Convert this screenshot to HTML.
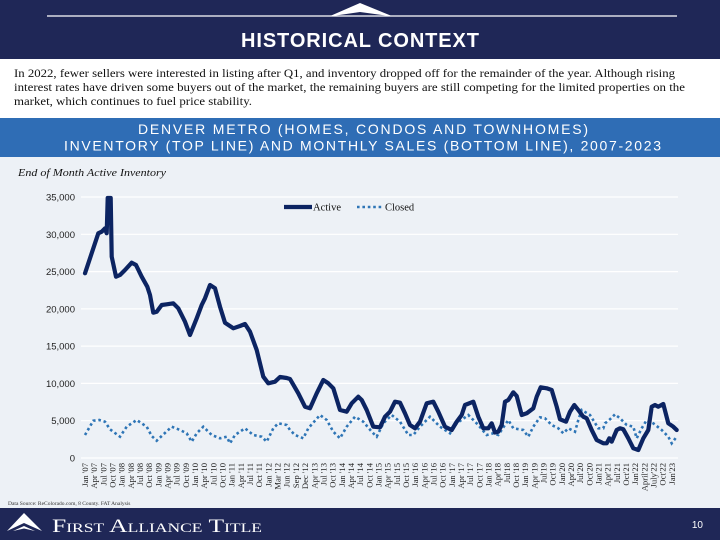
<!DOCTYPE html>
<html><head><meta charset="utf-8"><style>
html,body{margin:0;padding:0;background:#fff;}
svg{display:block;}
</style></head><body>
<svg width="720" height="540" viewBox="0 0 720 540" xmlns="http://www.w3.org/2000/svg">
<rect x="0" y="0" width="720" height="540" fill="#ffffff"/>
<!-- header -->
<rect x="0" y="0" width="720" height="59" fill="#1f2757"/>
<line x1="47" y1="16" x2="677" y2="16" stroke="#ffffff" stroke-width="1.2"/>
<polygon points="329,16.5 360,3 393,16.5 360,12" fill="#ffffff"/>
<text x="360" y="47" text-anchor="middle" font-family="Liberation Sans, sans-serif" font-weight="bold" font-size="20" fill="#ffffff" textLength="238" lengthAdjust="spacing">HISTORICAL CONTEXT</text>
<!-- body text -->
<g font-family="Liberation Serif, serif" font-size="11.5" fill="#111111">
<text x="14" y="77" textLength="661" lengthAdjust="spacingAndGlyphs">In 2022, fewer sellers were interested in listing after Q1, and inventory dropped off for the remainder of the year. Although rising</text>
<text x="14" y="91" textLength="671" lengthAdjust="spacingAndGlyphs">interest rates have driven some buyers out of the market, the remaining buyers are still competing for the limited properties on the</text>
<text x="14" y="105" textLength="238" lengthAdjust="spacingAndGlyphs">market, which continues to fuel price stability.</text>
</g>
<!-- blue band -->
<rect x="0" y="118" width="720" height="39" fill="#2f6db5"/>
<g font-family="Liberation Sans, sans-serif" font-size="14" fill="#ffffff">
<text x="138" y="134" textLength="450" lengthAdjust="spacing">DENVER METRO (HOMES, CONDOS AND TOWNHOMES)</text>
<text x="64" y="150.5" textLength="597" lengthAdjust="spacing">INVENTORY (TOP LINE) AND MONTHLY SALES (BOTTOM LINE), 2007-2023</text>
</g>
<!-- chart bg -->
<rect x="0" y="157" width="720" height="351" fill="#edf1f6"/>
<text x="18" y="176" font-family="Liberation Serif, serif" font-style="italic" font-size="11" fill="#111111" textLength="148" lengthAdjust="spacingAndGlyphs">End of Month Active Inventory</text>
<!-- gridlines -->
<g stroke="#ffffff" stroke-width="1.2">
<line x1="81" y1="197" x2="678" y2="197"/>
<line x1="81" y1="234.3" x2="678" y2="234.3"/>
<line x1="81" y1="271.6" x2="678" y2="271.6"/>
<line x1="81" y1="308.9" x2="678" y2="308.9"/>
<line x1="81" y1="346.1" x2="678" y2="346.1"/>
<line x1="81" y1="383.4" x2="678" y2="383.4"/>
<line x1="81" y1="420.7" x2="678" y2="420.7"/>
<line x1="81" y1="458" x2="678" y2="458"/>
</g>
<g font-family="Liberation Sans, sans-serif" font-size="9.5" fill="#222222" text-anchor="end">
<text x="75" y="200.5">35,000</text>
<text x="75" y="237.8">30,000</text>
<text x="75" y="275.1">25,000</text>
<text x="75" y="312.4">20,000</text>
<text x="75" y="349.6">15,000</text>
<text x="75" y="386.9">10,000</text>
<text x="75" y="424.2">5,000</text>
<text x="75" y="461.5">0</text>
</g>
<!-- closed series -->
<polyline fill="none" stroke="#2e75b6" stroke-width="2.6" stroke-dasharray="2.6 2.8" points="85,435 93.3,420.7 99.3,420 105,421.7 110,429.3 120,436.7 126.7,426.7 136.7,420 146.7,426.7 151.7,436 156.7,440.7 161.7,436 171.7,426.7 180,430 186.7,433.3 191.7,441.7 196.7,433.3 203.3,426.7 211.7,435 220,438.3 226.7,436.7 230,443.3 235,435 245,428.3 253.3,435 261.7,436.7 266.7,441.7 273.3,428.3 278.3,423.3 286.7,425 290,430 295,435 303.3,438.3 308.3,428.3 320,415 326.7,420 333.3,431.7 340,438.3 346.7,426.7 355,416.7 363.3,421.7 371.7,431.7 376.7,436.7 383.3,423.3 391.7,415 400,421.7 408.3,435 413.3,435 420,426.7 430,416.7 440,426.7 450,433.3 456.7,423.3 468.3,415 478.3,425 486.7,435 493.3,433.3 498.3,435 508.3,420 513.3,428.3 523.3,430 528.3,436.7 533.3,426.7 540,417.3 545,418.3 551.7,425 558.3,428.3 563.3,433.3 568.3,428.3 575,431.7 578.3,420 581.7,410 590,415 598.3,428.3 603.3,428.3 605,423.3 610,419.3 615,414.3 620,418.3 626.7,425 633.3,426.7 636.7,438.3 641.7,428.3 646.7,420 653.3,423.3 661.7,430 668.3,436.7 671.7,443.3 676.7,436.7"/>
<!-- active series -->
<polyline fill="none" stroke="#0c2462" stroke-width="4.2" stroke-linejoin="round" stroke-linecap="round" points="85,273.3 98.3,233.3 101.7,231.7 105,228.3 106.7,233.3 107.7,198 110.7,198 111.7,256.7 116,276.7 120,275 125,270 131.7,262.7 136,265 141.7,276.7 147.3,286.7 150,295 153.3,312.7 156.7,311.7 161.7,305 166.7,304.3 173.3,303.3 178.3,308.3 185,321.7 190,335 196.7,318.3 201.7,305 205,298.3 210,285 215,288.3 220,306.7 225,322.7 233.3,328.3 240,326 245,324 250,331.7 256.7,350 263.3,376.7 268.3,383.3 275,381.7 280,377 286.7,378 290,379 298.3,393.3 305,406.7 310,408.3 316.7,393.3 323.3,380 328.3,383.3 333.3,388.3 340,410 346.7,411.7 351.7,403.3 358.3,396.7 361.7,400 366.7,410 373.3,426.7 380,427.3 385,416.7 390,411.7 395,401.7 400,402.7 405,413.3 410,425 415,428.3 420,421.7 426.7,403.3 433.3,401.7 438.3,411.7 445,426.7 451.7,430 456.7,421.7 461.7,415 465,405 473.3,401.7 478.3,416.7 483.3,428.3 488.3,428.3 491.7,423.3 495,432.5 498.3,431.7 501.7,425 505,401.7 508.3,400 513.3,392.3 516.7,396 521.7,415 526.7,413.3 533.3,408.3 536.7,396.7 540.7,387.3 546.7,388.3 551.7,390 556.7,406.7 560,419.3 566,421.7 570,411.7 574.3,405 578.3,410 583.3,416.7 586.7,418.3 591.7,430 596.7,440 603.3,443.3 606.7,443.3 609.3,438.3 611.7,441.7 616.7,430 620,428.3 623.3,429.3 628.3,438.3 633.3,448.3 638.3,450 643.3,438.3 648.3,430 651.7,406.7 655,405 658.3,406.7 663.3,404 668.3,423.3 673.3,426.7 676.7,430"/>
<!-- legend -->
<line x1="284" y1="207" x2="312" y2="207" stroke="#0c2462" stroke-width="4.2"/>
<text x="313" y="210.5" font-family="Liberation Serif, serif" font-size="10.5" fill="#111111">Active</text>
<line x1="357" y1="207" x2="383" y2="207" stroke="#2e75b6" stroke-width="2.6" stroke-dasharray="2.6 2.8"/>
<text x="385" y="210.5" font-family="Liberation Serif, serif" font-size="10.5" fill="#111111">Closed</text>
<!-- x labels -->
<g font-family="Liberation Serif, serif" font-size="8.6" fill="#222222" text-anchor="end">
<text transform="translate(88,463) rotate(-90)">Jan '07</text>
<text transform="translate(97.17,463) rotate(-90)">Apr '07</text>
<text transform="translate(106.34,463) rotate(-90)">Jul '07</text>
<text transform="translate(115.51,463) rotate(-90)">Oct '07</text>
<text transform="translate(124.68,463) rotate(-90)">Jan '08</text>
<text transform="translate(133.85,463) rotate(-90)">Apr '08</text>
<text transform="translate(143.02,463) rotate(-90)">Jul '08</text>
<text transform="translate(152.19,463) rotate(-90)">Oct '08</text>
<text transform="translate(161.36,463) rotate(-90)">Jan '09</text>
<text transform="translate(170.53,463) rotate(-90)">Apr '09</text>
<text transform="translate(179.7,463) rotate(-90)">Jul '09</text>
<text transform="translate(188.87,463) rotate(-90)">Oct '09</text>
<text transform="translate(198.04,463) rotate(-90)">Jan '10</text>
<text transform="translate(207.21,463) rotate(-90)">Apr '10</text>
<text transform="translate(216.38,463) rotate(-90)">Jul '10</text>
<text transform="translate(225.55,463) rotate(-90)">Oct '10</text>
<text transform="translate(234.72,463) rotate(-90)">Jan '11</text>
<text transform="translate(243.89,463) rotate(-90)">Apr '11</text>
<text transform="translate(253.06,463) rotate(-90)">Jul '11</text>
<text transform="translate(262.23,463) rotate(-90)">Oct '11</text>
<text transform="translate(271.4,463) rotate(-90)">Jan '12</text>
<text transform="translate(280.57,463) rotate(-90)">Mar '12</text>
<text transform="translate(289.74,463) rotate(-90)">Jun '12</text>
<text transform="translate(298.91,463) rotate(-90)">Sep '12</text>
<text transform="translate(308.08,463) rotate(-90)">Dec '12</text>
<text transform="translate(317.25,463) rotate(-90)">Apr '13</text>
<text transform="translate(326.42,463) rotate(-90)">Jul '13</text>
<text transform="translate(335.59,463) rotate(-90)">Oct '13</text>
<text transform="translate(344.76,463) rotate(-90)">Jan '14</text>
<text transform="translate(353.93,463) rotate(-90)">Apr '14</text>
<text transform="translate(363.1,463) rotate(-90)">Jul '14</text>
<text transform="translate(372.27,463) rotate(-90)">Oct '14</text>
<text transform="translate(381.44,463) rotate(-90)">Jan '15</text>
<text transform="translate(390.61,463) rotate(-90)">Apr '15</text>
<text transform="translate(399.78,463) rotate(-90)">Jul '15</text>
<text transform="translate(408.95,463) rotate(-90)">Oct '15</text>
<text transform="translate(418.12,463) rotate(-90)">Jan '16</text>
<text transform="translate(427.29,463) rotate(-90)">Apr '16</text>
<text transform="translate(436.46,463) rotate(-90)">Jul '16</text>
<text transform="translate(445.63,463) rotate(-90)">Oct '16</text>
<text transform="translate(454.8,463) rotate(-90)">Jan '17</text>
<text transform="translate(463.97,463) rotate(-90)">Apr '17</text>
<text transform="translate(473.14,463) rotate(-90)">Jul '17</text>
<text transform="translate(482.31,463) rotate(-90)">Oct '17</text>
<text transform="translate(491.48,463) rotate(-90)">Jan '18</text>
<text transform="translate(500.65,463) rotate(-90)">Apr'18</text>
<text transform="translate(509.82,463) rotate(-90)">Jul'18</text>
<text transform="translate(518.99,463) rotate(-90)">Oct '18</text>
<text transform="translate(528.16,463) rotate(-90)">Jan '19</text>
<text transform="translate(537.33,463) rotate(-90)">Apr '19</text>
<text transform="translate(546.5,463) rotate(-90)">Jul'19</text>
<text transform="translate(555.67,463) rotate(-90)">Oct'19</text>
<text transform="translate(564.84,463) rotate(-90)">Jan'20</text>
<text transform="translate(574.01,463) rotate(-90)">Apr'20</text>
<text transform="translate(583.18,463) rotate(-90)">Jul'20</text>
<text transform="translate(592.35,463) rotate(-90)">Oct'20</text>
<text transform="translate(601.52,463) rotate(-90)">Jan'21</text>
<text transform="translate(610.69,463) rotate(-90)">Apr'21</text>
<text transform="translate(619.86,463) rotate(-90)">Jul'21</text>
<text transform="translate(629.03,463) rotate(-90)">Oct'21</text>
<text transform="translate(638.2,463) rotate(-90)">Jan'22</text>
<text transform="translate(647.37,463) rotate(-90)">April'22</text>
<text transform="translate(656.54,463) rotate(-90)">July'22</text>
<text transform="translate(665.71,463) rotate(-90)">Oct'22</text>
<text transform="translate(674.88,463) rotate(-90)">Jan'23</text>
</g>
<text x="8" y="505" font-family="Liberation Serif, serif" font-size="5.5" fill="#333333">Data Source: ReColorado.com, 8 County.  FAT Analysis</text>
<!-- footer -->
<rect x="0" y="508" width="720" height="32" fill="#1f2757"/>
<polygon points="7,531 24,513 42,531 24,523" fill="#ffffff"/>
<polygon points="13,531 24,526 35,531 24,528.5" fill="#ffffff"/>
<text x="52" y="532" font-family="Liberation Serif, serif" font-size="19" fill="#ffffff" style="font-variant:small-caps" textLength="210" lengthAdjust="spacingAndGlyphs">First Alliance Title</text>
<text x="703" y="528" text-anchor="end" font-family="Liberation Sans, sans-serif" font-size="10" fill="#ffffff">10</text>
</svg>
</body></html>
